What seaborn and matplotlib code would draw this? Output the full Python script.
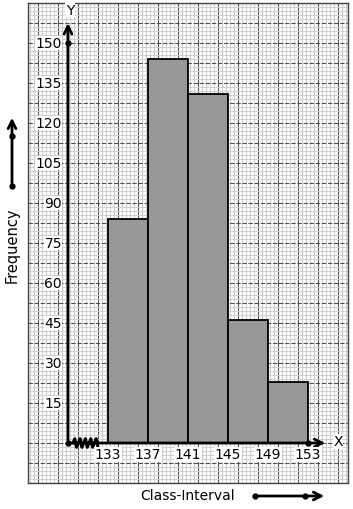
import matplotlib
matplotlib.use("Agg")
import matplotlib.pyplot as plt
import seaborn as sns
import numpy as np
from matplotlib.ticker import MultipleLocator

class_edges = [133, 137, 141, 145, 149, 153]
frequencies = [84, 144, 131, 46, 23]
y_tick_values = [15, 30, 45, 60, 75, 90, 105, 120, 135, 150]
y_tick_labels = ["15", "30", "45", "60", "75", "90", "105", "120", "135", "150"]
x_tick_labels = ["133", "137", "141", "145", "149", "153"]

sns.set_style("white")
plt.rcParams['font.family'] = ['DejaVu Sans']
plt.rcParams['text.color'] = 'black'

W, H = 353, 510
fig = plt.figure(figsize=(W / 100, H / 100), dpi=100)
ax = fig.add_axes([28 / W, (H - 484) / H, 320 / W, 480 / H])

ax.set_xlim(125, 157)
ax.set_ylim(-15, 165)

# grid paper
ax.xaxis.set_major_locator(MultipleLocator(2))
ax.xaxis.set_minor_locator(MultipleLocator(0.4))
ax.yaxis.set_major_locator(MultipleLocator(7.5))
ax.yaxis.set_minor_locator(MultipleLocator(1.5))
ax.grid(which="minor", color="#cfcfcf", lw=0.8)
ax.set_axisbelow(True)
ax.tick_params(which="both", length=0, labelbottom=False, labelleft=False)
for s in ax.spines.values():
    s.set_color("#444444")
    s.set_linewidth(1.0)

mids = [(a + b) / 2 for a, b in zip(class_edges[:-1], class_edges[1:])]
sns.histplot(x=mids, weights=frequencies, bins=class_edges, ax=ax,
             color="#989898", edgecolor="black", linewidth=1.3, alpha=1, zorder=3)
ax.set_xlabel("")
ax.set_ylabel("")
ax.grid(which="major", axis="x", color="#505050", lw=0.8)
ax.grid(which="major", axis="y", color="#505050", lw=0.8, linestyle=(0, (4, 1.5)))
ax.grid(which="minor", color="#cfcfcf", lw=0.8)
ax.set_xlim(125, 157)
ax.set_ylim(-15, 165)

y0x = 129
# axes arrows
ax.annotate("", xy=(y0x, 158.5), xytext=(y0x, 0),
            arrowprops=dict(arrowstyle="->", lw=2, color="black", mutation_scale=14), zorder=5)
ax.annotate("", xy=(155, 0), xytext=(y0x, 0),
            arrowprops=dict(arrowstyle="->", lw=2, color="black", mutation_scale=14), zorder=5)
ax.plot([y0x, y0x, 153], [0, 150, 0], "o", color="black", ms=3.5, zorder=6)

# zigzag break
zx = np.linspace(129.5, 132.0, 15)
zy = np.array([0, 1.6, -1.6] * 5)[:15]
ax.plot(zx, zy, color="black", lw=2.2, zorder=6)

bb = dict(facecolor="white", edgecolor="none", pad=0.3)
for v, lab in zip(y_tick_values, y_tick_labels):
    ax.text(y0x - 0.6, v, lab, ha="right", va="center", fontsize=10, bbox=bb, zorder=7)
for v, lab in zip(class_edges, x_tick_labels):
    ax.text(v, -4.2, lab, ha="center", va="center", fontsize=10, bbox=bb, zorder=7)

ax.text(y0x + 0.2, 162.5, "Y", ha="center", va="center", fontsize=10, bbox=bb, zorder=7)
ax.text(156.0, 0.6, "X", ha="center", va="center", fontsize=10, bbox=bb, zorder=7)

# outer labels
fig.text(12 / W, 1 - 245 / H, "Frequency", rotation=90, ha="center", va="center", fontsize=10.5)
fig.text(188 / W, 1 - 496 / H, "Class-Interval", ha="center", va="center", fontsize=10)

fig.add_artist(matplotlib.patches.FancyArrowPatch((12, H - 187), (12, H - 116), transform=None,
               arrowstyle="->", lw=2, color="black", mutation_scale=14))
fig.add_artist(matplotlib.lines.Line2D([12, 12], [H - 187, H - 137], transform=None,
               marker="o", ms=3.5, lw=0, color="black"))
fig.add_artist(matplotlib.patches.FancyArrowPatch((255, H - 497), (327, H - 497), transform=None,
               arrowstyle="->", lw=2, color="black", mutation_scale=14))
fig.add_artist(matplotlib.lines.Line2D([255, 305], [H - 497, H - 497], transform=None,
               marker="o", ms=3.5, lw=0, color="black"))

fig.savefig("out.png", dpi=100, facecolor="white")
